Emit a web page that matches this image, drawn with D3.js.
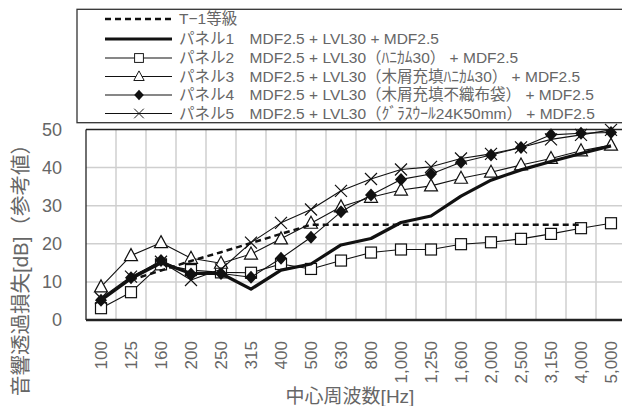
<!DOCTYPE html>
<html>
<head>
<meta charset="utf-8">
<script src="https://cdn.jsdelivr.net/npm/d3@7"></script>
<style>
  html, body { margin: 0; padding: 0; background: #fff; }
  svg { display: block; }
  text { font-family: "Liberation Sans", "Noto Sans CJK JP", sans-serif; fill: #666; }
</style>
</head>
<body>
<svg id="chart" width="622" height="406"></svg>
<script>
// 1/3-octave centre frequencies
const categories = ["100","125","160","200","250","315","400","500","630","800",
  "1,000","1,250","1,600","2,000","2,500","3,150","4,000","5,000"];
const yTicks = [0, 10, 20, 30, 40, 50];

// T-1 grade reference curve (125 Hz – 4 kHz)
const t1 = [null, 10.5, 13, 15.5, 17.8, 20.2, 22.6, 25, 25, 25, 25, 25, 25, 25, 25, 25, 25, null];
// Sound transmission loss of each panel [dB]
const panel1 = [5.2, 10.9, 15.0, 12.2, 12.2, 8.1, 13.1, 14.7, 19.7, 21.4, 25.6, 27.3, 32.5, 36.7, 39.4, 41.6, 43.7, 45.7];
const panel2 = [3.1, 7.3, 14.6, 13.1, 12.5, 12.4, 14.7, 13.4, 15.6, 17.7, 18.5, 18.5, 19.9, 20.4, 21.3, 22.6, 24.1, 25.4];
const panel3 = [8.7, 16.9, 20.3, 16.2, 14.9, 17.3, 21.3, 25.4, 29.7, 32.2, 34.1, 35.2, 37.2, 38.8, 40.7, 42.4, 44.4, 45.9];
const panel4 = [5.2, 11.1, 15.6, 12.1, 12.2, 11.2, 16.2, 21.7, 28.4, 32.8, 36.9, 38.3, 41.4, 43.3, 45.3, 48.6, 49.0, 49.2];
const panel5 = [5.7, 11.4, 15.3, 10.5, 13.3, 20.3, 25.5, 29.0, 33.9, 37.0, 39.5, 40.2, 42.4, 43.6, 45.3, 47.4, 48.6, 49.9];

const legendLabels = [
  "T−1等級",
  "パネル1　MDF2.5 + LVL30 + MDF2.5",
  "パネル2　MDF2.5 + LVL30（ﾊﾆｶﾑ30） + MDF2.5",
  "パネル3　MDF2.5 + LVL30（木屑充填ﾊﾆｶﾑ30） + MDF2.5",
  "パネル4　MDF2.5 + LVL30（木屑充填不織布袋） + MDF2.5",
  "パネル5　MDF2.5 + LVL30（ｸﾞﾗｽｳｰﾙ24K50mm） + MDF2.5"
];

const svg = d3.select("#chart");
const plot = { left: 86, right: 626, top: 129.5, bottom: 320 };

const x = d3.scaleBand().domain(categories).range([plot.left, plot.right]).padding(0);
const y = d3.scaleLinear().domain([0, 50]).range([plot.bottom, plot.top]);
const cx = c => x(c) + x.bandwidth() / 2;

// grid
const grid = svg.append("g");
grid.selectAll("line.v").data(categories.slice(1)).join("line")
  .attr("x1", d => x(d)).attr("x2", d => x(d))
  .attr("y1", plot.top).attr("y2", plot.bottom)
  .attr("stroke", "#cfcfcf").attr("stroke-width", 1.5);
grid.selectAll("line.h").data(yTicks.slice(1, -1)).join("line")
  .attr("x1", plot.left).attr("x2", plot.right)
  .attr("y1", d => y(d)).attr("y2", d => y(d))
  .attr("stroke", "#cfcfcf").attr("stroke-width", 1.5);

// frame
svg.append("line").attr("x1", plot.left).attr("x2", plot.right)
  .attr("y1", plot.top).attr("y2", plot.top).attr("stroke", "#222").attr("stroke-width", 1.3);
svg.append("line").attr("x1", plot.left).attr("x2", plot.left)
  .attr("y1", plot.top).attr("y2", plot.bottom).attr("stroke", "#222").attr("stroke-width", 1.3);
svg.append("line").attr("x1", plot.left).attr("x2", plot.right)
  .attr("y1", plot.bottom).attr("y2", plot.bottom).attr("stroke", "#222").attr("stroke-width", 2.5);

// y tick labels
svg.append("g").selectAll("text").data(yTicks).join("text")
  .attr("x", 62).attr("y", d => y(d)).attr("dy", "0.35em")
  .attr("text-anchor", "end").attr("font-size", 18)
  .text(d => d);

// x tick labels (rotated)
svg.append("g").selectAll("text").data(categories).join("text")
  .attr("transform", d => `translate(${cx(d)},341) rotate(-90)`)
  .attr("dy", "0.35em").attr("text-anchor", "end").attr("font-size", 17)
  .text(d => d);

// axis titles
svg.append("text").attr("x", 350).attr("y", 403)
  .attr("text-anchor", "middle").attr("font-size", 19).text("中心周波数[Hz]");
svg.append("text").attr("transform", "translate(21,396) rotate(-90)")
  .attr("dy", "0.35em").attr("text-anchor", "start").attr("font-size", 20.5)
  .text("音響透過損失[dB]（参考値）");

// markers
function drawMarker(g, type) {
  if (type === "square") {
    g.append("rect").attr("x", -5.5).attr("y", -5.5).attr("width", 11).attr("height", 11)
      .attr("fill", "#fff").attr("stroke", "#111").attr("stroke-width", 1.2);
  } else if (type === "triangle") {
    g.append("path").attr("d", "M0,-7L6.5,5L-6.5,5Z")
      .attr("fill", "#fff").attr("stroke", "#111").attr("stroke-width", 1.2);
  } else if (type === "diamond") {
    g.append("path").attr("d", "M0,-6.5L6,0L0,6.5L-6,0Z").attr("fill", "#111");
  } else if (type === "cross") {
    g.append("path").attr("d", "M-6,-6L6,6M-6,6L6,-6")
      .attr("stroke", "#111").attr("stroke-width", 1.2).attr("fill", "none");
  }
}

const series = [
  { values: t1, width: 2.5, dash: "6,4", marker: null },
  { values: panel1, width: 3.2, dash: null, marker: null },
  { values: panel2, width: 1.1, dash: null, marker: "square" },
  { values: panel3, width: 1.1, dash: null, marker: "triangle" },
  { values: panel4, width: 1.1, dash: null, marker: "diamond" },
  { values: panel5, width: 1.1, dash: null, marker: "cross" }
];

const line = d3.line()
  .defined(d => d.v != null)
  .x(d => cx(d.c)).y(d => y(d.v));

const drawOrder = [2, 3, 5, 4, 1, 0];
drawOrder.forEach(i => {
  const s = series[i];
  const pts = categories.map((c, k) => ({ c, v: s.values[k] }));
  svg.append("path").datum(pts).attr("d", line)
    .attr("fill", "none").attr("stroke", "#111")
    .attr("stroke-width", s.width)
    .attr("stroke-dasharray", s.dash)
    .attr("stroke-linejoin", "round");
  if (s.marker) {
    svg.append("g").selectAll("g").data(pts.filter(p => p.v != null)).join("g")
      .attr("transform", p => `translate(${cx(p.c)},${y(p.v)})`)
      .each(function () { drawMarker(d3.select(this), s.marker); });
  }
});

// legend
const legend = svg.append("g");
legend.append("rect").attr("x", 77).attr("y", 9.3).attr("width", 560).attr("height", 113.4)
  .attr("fill", "#fff").attr("stroke", "#333").attr("stroke-width", 1.3);
const rowY = [19, 39, 58, 76.5, 95, 113.5];
series.forEach((s, i) => {
  const row = legend.append("g").attr("transform", `translate(0,${rowY[i]})`);
  row.append("line").attr("x1", 105).attr("x2", 172).attr("y1", 0).attr("y2", 0)
    .attr("stroke", "#111").attr("stroke-width", s.width).attr("stroke-dasharray", s.dash);
  if (s.marker) {
    const m = row.append("g").attr("transform", "translate(139,0) scale(0.8)");
    drawMarker(m, s.marker);
  }
  row.append("text").attr("x", 179).attr("y", 0).attr("dy", "0.35em")
    .attr("font-size", 15.5).text(legendLabels[i]);
});
</script>
</body>
</html>
